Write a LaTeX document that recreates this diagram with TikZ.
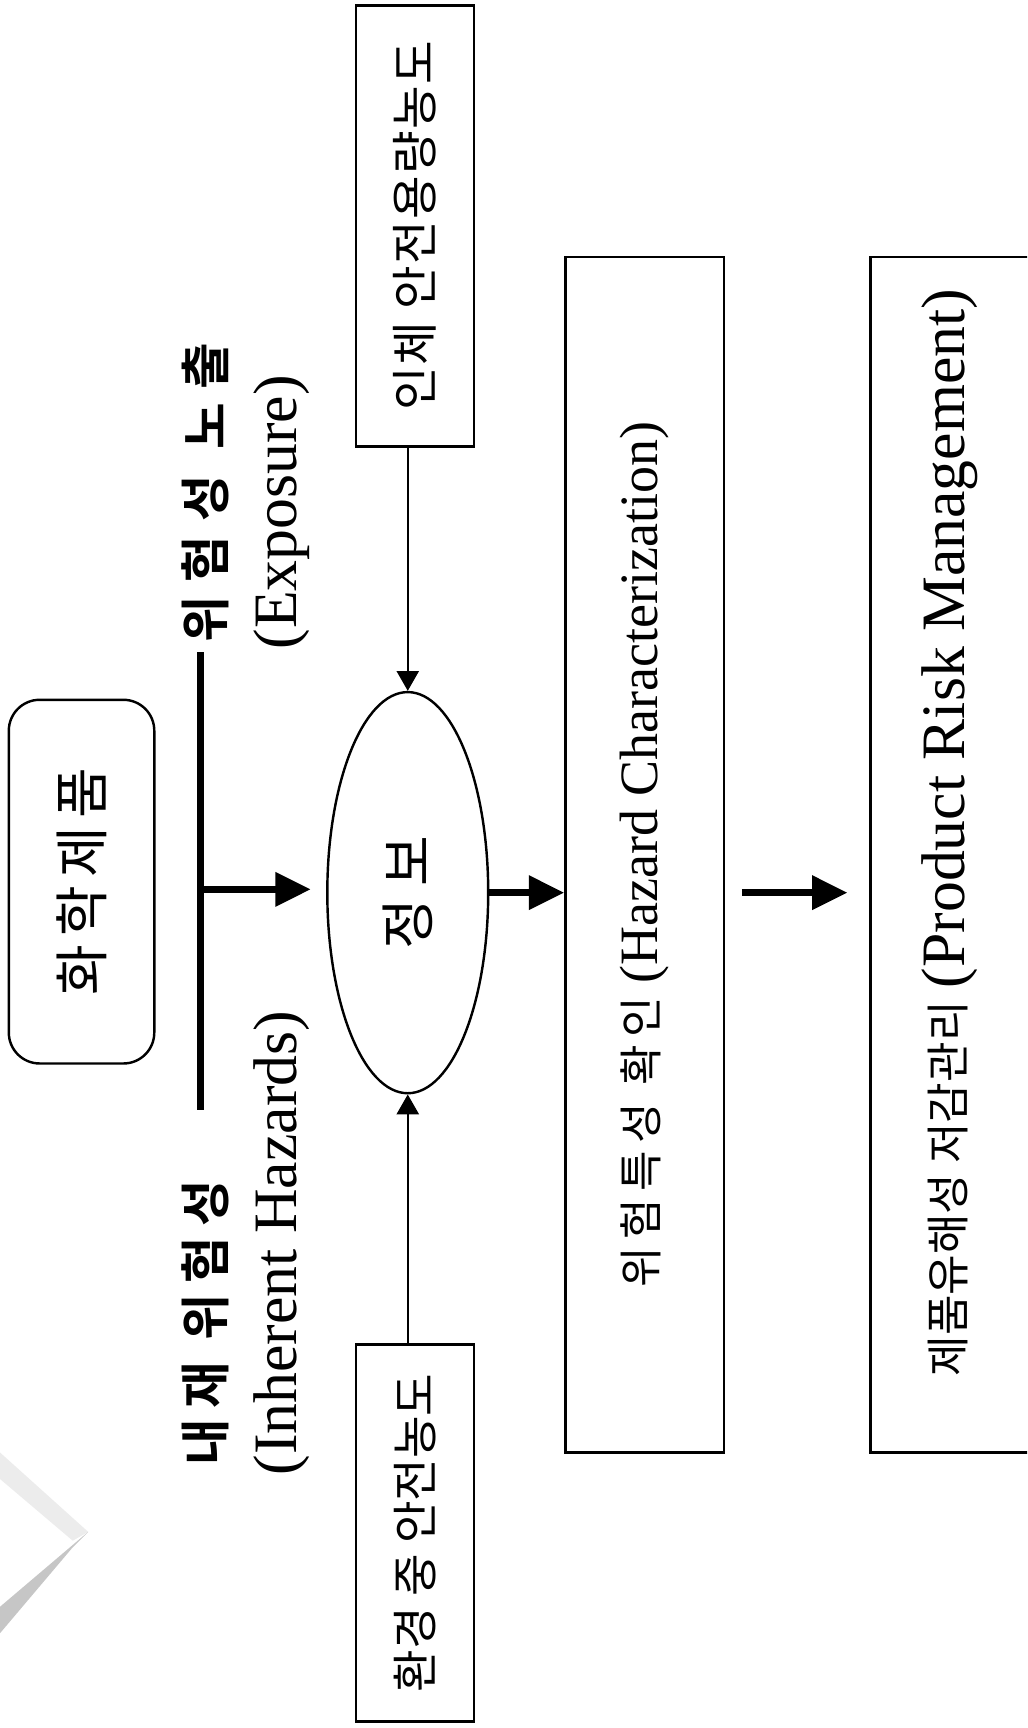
\documentclass[tikz,border=0pt]{standalone}
\usepackage{fontspec}
\setmainfont{Liberation Serif}
\newfontfamily\kr{Noto Sans CJK KR}[BoldFont={Noto Sans CJK KR Bold}]
\usetikzlibrary{arrows.meta,shapes.geometric}
\tikzset{
  boxline/.style={draw, line width=1.1pt, inner sep=0pt},
  rotbox/.style={boxline, rotate=90, rectangle},
  thinarrow/.style={line width=1pt, -{Triangle[length=9pt,width=10pt]}},
  thickarrow/.style={line width=3pt, -{Triangle[length=16pt,width=15pt]}},
  rotlabel/.style={rotate=90, inner sep=0pt},
  titlefont/.style={font={\kr\bfseries\fontsize{23}{28}\selectfont\addfontfeature{LetterSpace=#1}}},
  engfont/.style={font={\fontsize{28}{32}\selectfont}},
  sidefont/.style={font={\kr\fontsize{21}{25}\selectfont}},
}
\begin{document}
\begin{tikzpicture}[x=0.5pt,y=-0.5pt]
\useasboundingbox (0,0) rectangle (932,1568);
\fill[white] (0,0) rectangle (932,1568);
\clip (0,0) rectangle (932,1568);

% scan artefact (folded corner) at lower left
\fill[gray!15] (0,1318) -- (80,1390) -- (66,1398) -- (0,1342) -- cycle;
\fill[gray!45] (80,1390) -- (0,1458) -- (0,1482) -- (66,1404) -- cycle;

% chemical product box
\node[boxline, rounded corners=14pt, minimum width=66pt, minimum height=165pt] (prod) at (74,800) {};
\node[rotlabel, font={\kr\fontsize{25}{30}\selectfont\addfontfeature{LetterSpace=15}}] (prodtxt) at (prod.center) {화학제품};

% spine
\coordinate (spTop) at (182,592);
\coordinate (spBot) at (182,1007);
\coordinate (spMid) at (182,807);
\draw[line width=3pt] (spTop) -- (spBot);

% titles
\node[rotlabel, titlefont=20] (inh) at (186,1200) {내재 위험성};
\node[rotlabel, titlefont=27] (exp) at (186,447) {위험성 노출};
\node[rotlabel, engfont] (inhE) at (256,1128) {(Inherent Hazards)};
\node[rotlabel, engfont] (expE) at (256,465) {(Exposure)};

% ellipse
\node[ellipse, draw, line width=1.1pt, minimum width=73pt, minimum height=182pt, inner sep=0pt] (ell) at (370,810) {};
\node[rotlabel, font={\kr\fontsize{25}{30}\selectfont}] (elltxt) at (ell.center) {정 보};

% side boxes
\node[rotbox, minimum width=200pt, minimum height=53.5pt, font={\kr\fontsize{21.5}{25}\selectfont\addfontfeature{LetterSpace=3}}] (topbox) at (376.5,205) {인체 안전용량농도\hspace{10pt}};
\node[rotbox, minimum width=171pt, minimum height=53.5pt, sidefont] (botbox) at (376.5,1391) {환경 중 안전농도};

% main boxes
\node[rotbox, minimum width=542.5pt, minimum height=72pt] (box3) at (585,775.5)
  {{\kr\fontsize{20}{24}\selectfont\addfontfeature{LetterSpace=17}위험특성 확인}\hspace{6pt}{\fontsize{24.5}{28}\selectfont(Hazard Characterization)}};
\node[rotbox, minimum width=542.5pt, minimum height=72pt] (box4) at (862,775.5)
  {\hspace*{20pt}{\kr\fontsize{20}{24}\selectfont 제품유해성 저감관리}\hspace{6pt}{\fontsize{28}{31}\selectfont(Product Risk Management)}};

% connectors
\draw[thinarrow] (ell.north |- topbox.west) -- (ell.north);
\draw[thinarrow] (ell.south |- botbox.east) -- (ell.south);
\draw[thickarrow, shorten >=7pt] (spMid) -- (spMid -| ell.west);
\draw[thickarrow] (ell.east) -- (ell.east -| box3.north);
\draw[thickarrow, shorten <=7.5pt, shorten >=10pt] (ell.east -| box3.south) -- (ell.east -| box4.north);
\end{tikzpicture}
\end{document}
